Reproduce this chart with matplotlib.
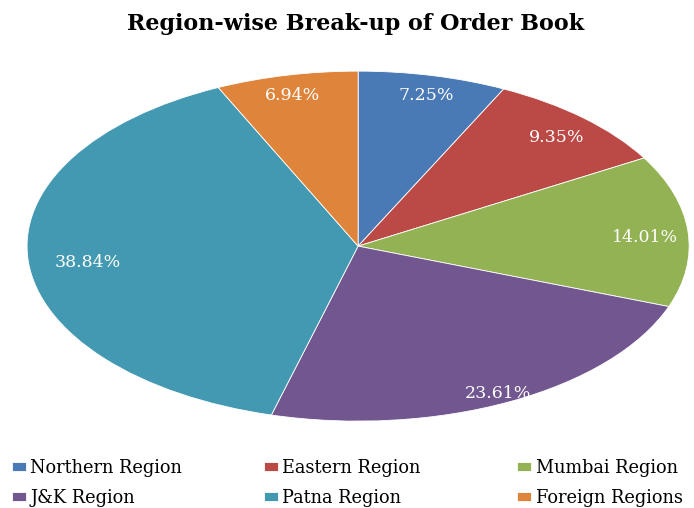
import matplotlib
matplotlib.use("Agg")
import matplotlib.pyplot as plt
import numpy as np

# order book share by region (%)
regions = ["Northern Region", "Eastern Region", "Mumbai Region",
           "J&K Region", "Patna Region", "Foreign Regions"]
shares = [7.25, 9.35, 14.01, 23.61, 38.84, 6.94]
colors = ["#4a7ab6", "#bb4a47", "#92b253", "#71568f", "#4399b1", "#de843b"]

plt.rcParams["font.family"] = ["DejaVu Serif"]

fig = plt.figure(figsize=(6.94, 5.08), dpi=100)
fig.patch.set_facecolor("white")

# stretched pie: axes aspect left free so the pie becomes an ellipse
ax = fig.add_axes([0.039, 0.171, 0.954, 0.689])
wedges, _ = ax.pie(shares, colors=colors, startangle=90, counterclock=False,
                   radius=1.0, wedgeprops=dict(linewidth=0.6, edgecolor="white"))
ax.set_aspect("auto")
ax.set_xlim(-1, 1)
ax.set_ylim(-1, 1)
ax.axis("off")

# percentage labels placed along each slice's mid angle
label_r = [0.91, 0.88, 0.87, 0.92, 0.82, 0.91]
cum = np.cumsum([0] + shares[:-1])
for s, c, r in zip(shares, cum, label_r):
    ang = np.deg2rad(90 - (c + s / 2) * 3.6)
    ax.text(r * np.cos(ang), r * np.sin(ang) - 0.025, f"{s:.2f}%",
            ha="center", va="center", color="white", fontsize=12.5)

fig.text(0.512, 0.953, "Region-wise Break-up of Order Book",
         ha="center", va="center", fontsize=16, fontweight="bold")

# legend laid out row by row: one small legend per column, equal column widths
col_x = [0.017, 0.380, 0.745]
for j, x in enumerate(col_x):
    idx = [j, j + 3]
    fig.legend([wedges[i] for i in idx], [regions[i] for i in idx],
               loc="lower left", bbox_to_anchor=(x, 0.002), frameon=False,
               fontsize=12.8, handlelength=0.8, handleheight=0.45,
               handletextpad=0.25, labelspacing=0.68, borderpad=0,
               borderaxespad=0)

fig.savefig("out.png", dpi=100)
